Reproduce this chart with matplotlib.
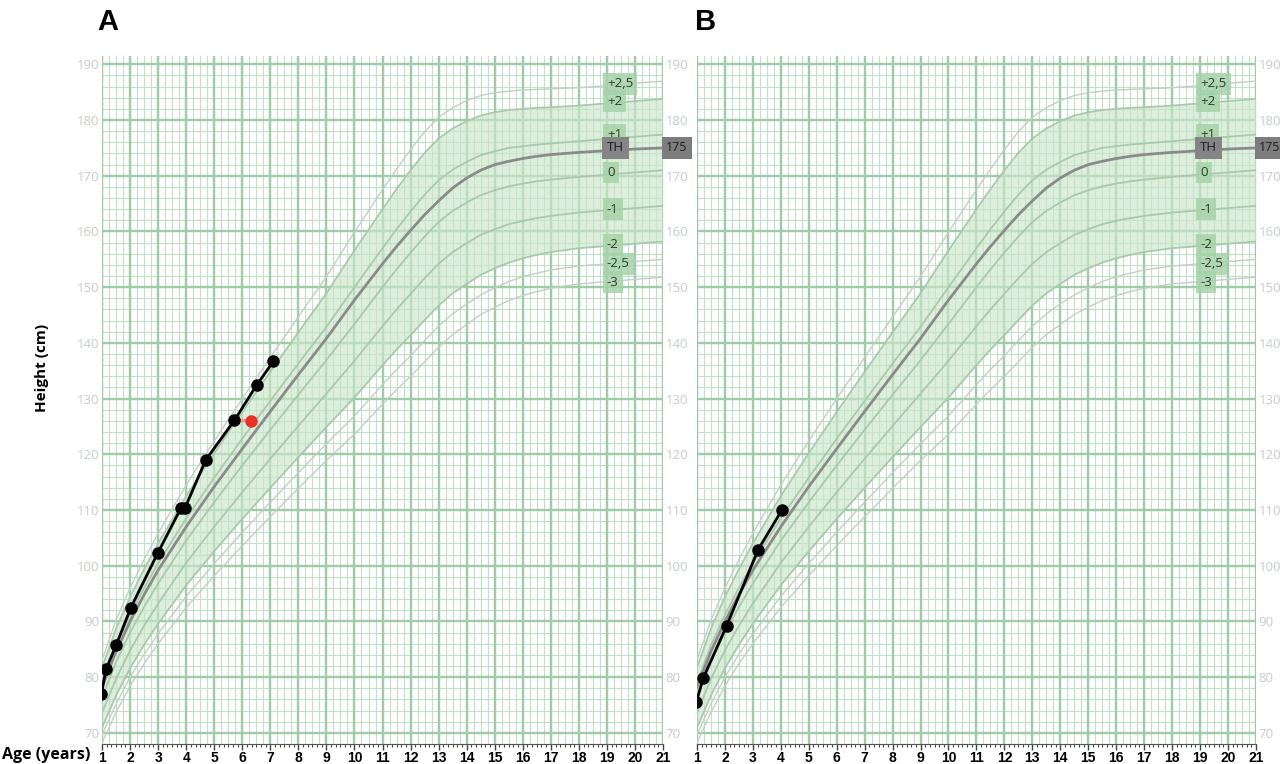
import matplotlib.pyplot as plt
from matplotlib.ticker import MultipleLocator
import numpy as np

# reference curves (SDS lines)
ages = [1, 1.5, 2, 2.5, 3, 4, 5, 6, 7, 8, 9, 10, 11, 11.5, 12, 12.5, 13, 13.5, 14,
        14.5, 15, 15.5, 16, 16.5, 17, 18, 19, 20, 21]
sds_p25 = [83.1, 90.2, 96.0, 101.1, 105.8, 114.5, 122.4, 130.0, 137.4, 144.7, 151.9, 159.9, 167.5,
           171.2, 174.7, 177.9, 180.5, 182.2, 183.5, 184.4, 184.9, 185.2, 185.4, 185.5, 185.6,
           185.8, 186.2, 186.6, 187.0]
sds_p2 = [81.7, 88.7, 94.4, 99.4, 104.0, 112.5, 120.2, 127.6, 134.8, 141.9, 148.9, 156.6, 164.0,
          167.6, 171.0, 174.1, 176.7, 178.5, 179.8, 180.8, 181.4, 181.8, 182.0, 182.2, 182.3,
          182.6, 183.0, 183.4, 183.8]
sds_p1 = [79.0, 85.7, 91.2, 96.0, 100.4, 108.5, 115.8, 122.8, 129.6, 136.3, 142.9, 150.0, 157.0,
          160.4, 163.6, 166.6, 169.2, 171.1, 172.5, 173.7, 174.4, 175.0, 175.3, 175.6, 175.8,
          176.2, 176.6, 177.0, 177.4]
sds_0 = [76.3, 82.7, 88.0, 92.6, 96.8, 104.5, 111.4, 118.0, 124.4, 130.7, 136.9, 143.4, 150.0,
         153.2, 156.2, 159.1, 161.7, 163.7, 165.2, 166.5, 167.4, 168.1, 168.6, 169.0, 169.3,
         169.8, 170.2, 170.6, 171.0]
sds_m1 = [73.6, 79.7, 84.8, 89.2, 93.2, 100.5, 107.0, 113.2, 119.2, 125.1, 130.9, 136.8, 143.0,
          146.0, 148.8, 151.6, 154.2, 156.3, 157.9, 159.4, 160.4, 161.3, 161.9, 162.4, 162.8,
          163.4, 163.8, 164.2, 164.6]
sds_m2 = [70.9, 76.7, 81.6, 85.8, 89.6, 96.5, 102.6, 108.4, 114.0, 119.5, 124.9, 130.2, 136.0,
          138.8, 141.4, 144.1, 146.7, 148.9, 150.6, 152.2, 153.4, 154.4, 155.2, 155.8, 156.3,
          157.0, 157.4, 157.8, 158.2]
sds_m25 = [69.6, 75.2, 80.0, 84.1, 87.8, 94.5, 100.4, 106.0, 111.4, 116.7, 121.9, 126.9, 132.5,
           135.2, 137.7, 140.4, 143.0, 145.2, 147.0, 148.6, 149.9, 151.0, 151.9, 152.5, 153.1,
           153.8, 154.2, 154.6, 155.0]
sds_m3 = [68.2, 73.7, 78.4, 82.4, 86.0, 92.5, 98.2, 103.6, 108.8, 113.9, 118.9, 123.6, 129.0,
          131.6, 134.0, 136.6, 139.2, 141.5, 143.3, 145.1, 146.4, 147.6, 148.5, 149.2, 149.8,
          150.6, 151.0, 151.4, 151.8]
th_line = [78.2, 84.6, 90.0, 94.8, 99.2, 107.0, 114.2, 121.0, 127.7, 134.3, 140.8, 147.7, 154.2,
           157.3, 160.2, 163.0, 165.5, 167.8, 169.6, 171.0, 172.0, 172.6, 173.1, 173.5, 173.8,
           174.2, 174.5, 174.8, 175.0]

sds_labels = ['+2,5', '+2', '+1', '0', '-1', '-2', '-2,5', '-3']
label_heights = [186.5, 183.4, 177.4, 170.6, 164.0, 157.6, 154.2, 150.9]
target_height = 175

# patient measurements
a_age = [0.98, 1.14, 1.5, 2.03, 2.99, 3.82, 3.96, 4.70, 5.72, 6.51, 7.11]
a_height = [77.0, 81.4, 85.7, 92.5, 102.3, 110.4, 110.4, 119.0, 126.1, 132.4, 136.7]
a_bone_age = 6.31
a_bone_height = 126.0

b_age = [0.98, 1.23, 2.06, 3.19, 4.04]
b_height = [75.6, 79.9, 89.2, 102.9, 110.0]

major_col = '#9fcba8'
minor_col = '#c3dfc7'
tick_col = '#c5cdc5'


def draw_panel(ax, p_age, p_height, left_labels):
    ax.set_xlim(1, 21)
    ax.set_ylim(68, 191.5)

    # graph paper
    for x in np.arange(1, 21.01, 0.25):
        ax.axvline(x, color=minor_col, lw=0.8, zorder=0)
    for y in np.arange(68, 191, 2):
        ax.axhline(y, color=minor_col, lw=0.8, zorder=0)
    for x in range(1, 22):
        ax.axvline(x, color=major_col, lw=1.7, zorder=0.2)
    for y in range(70, 191, 10):
        ax.axhline(y, color=major_col, lw=1.7, zorder=0.2)

    ax.fill_between(ages, sds_m2, sds_p2, color='#cbe6cb', alpha=0.65, lw=0, zorder=1)
    for curve in [sds_p25, sds_m25, sds_m3]:
        ax.plot(ages, curve, color='#c3cfc4', lw=1.0, zorder=2)
    for curve in [sds_p2, sds_p1, sds_0, sds_m1, sds_m2]:
        ax.plot(ages, curve, color='#a9c9ad', lw=1.3, zorder=2)
    ax.plot(ages, th_line, color='#8a8a8a', lw=2.0, zorder=3)

    for lab, h in zip(sds_labels, label_heights):
        ax.text(19.0, h, lab, fontsize=9.5, color='#2f3b30', family='Open Sans',
                ha='left', va='center', zorder=4,
                bbox=dict(facecolor='#a6d3a9', edgecolor='none', alpha=0.85, pad=3))
    ax.text(19.0, target_height, 'TH', fontsize=9.5, color='#1e1e1e', family='Open Sans',
            ha='left', va='center', zorder=5,
            bbox=dict(facecolor='#858585', edgecolor='none', pad=3.5))
    ax.text(21.12, target_height, str(target_height), fontsize=9, color='#1e1e1e',
            family='Open Sans', ha='left', va='center', zorder=5, clip_on=False,
            bbox=dict(facecolor='#7d7d7d', edgecolor='none', pad=3))

    ax.plot(p_age, p_height, color='black', lw=2, marker='o', ms=8, zorder=6)

    ax.xaxis.set_major_locator(MultipleLocator(1))
    ax.xaxis.set_minor_locator(MultipleLocator(1 / 6))
    ax.set_yticks(range(70, 191, 10))
    ax.tick_params(axis='x', which='major', length=4, width=1, color='#444444',
                   labelsize=10, pad=1)
    ax.tick_params(axis='x', which='minor', length=2, width=0.8, color='#444444')
    ax.tick_params(axis='y', length=0, labelsize=9.5, labelcolor=tick_col,
                   labelleft=left_labels, labelright=True, pad=2)
    for lab in ax.get_xticklabels():
        lab.set_fontweight('bold')
        lab.set_family('Liberation Sans')
    for lab in ax.get_yticklabels():
        lab.set_family('Open Sans')
    for side in ['left', 'right', 'top']:
        ax.spines[side].set_visible(False)
    ax.spines['bottom'].set_color('#555555')


fig = plt.figure(figsize=(12.8, 7.64), dpi=100)
ax_a = fig.add_axes([0.0797, 0.0262, 0.4383, 0.9005])
ax_b = fig.add_axes([0.5445, 0.0262, 0.4367, 0.9005])

draw_panel(ax_a, a_age, a_height, True)
draw_panel(ax_b, b_age, b_height, False)

# bone age marker in panel A
ax_a.plot([a_age[8], a_bone_age], [a_height[8], a_bone_height], color='#f09a8a', lw=2.5, zorder=5.5)
ax_a.plot([a_bone_age], [a_bone_height], 'o', color='#e8322a', ms=8, zorder=7)

fig.text(0.084, 0.971, 'A', fontsize=21, fontweight='bold', family='Liberation Sans',
         ha='center', va='center')
fig.text(0.551, 0.971, 'B', fontsize=21, fontweight='bold', family='Liberation Sans',
         ha='center', va='center')
fig.text(0.033, 0.518, 'Height (cm)', rotation=90, fontsize=11, fontweight='bold',
         family='Open Sans', ha='center', va='center')
fig.text(0.0015, 0.012, 'Age (years)', fontsize=11.5, fontweight='bold',
         family='Open Sans', ha='left', va='center')

fig.savefig('out.png', dpi=100)
